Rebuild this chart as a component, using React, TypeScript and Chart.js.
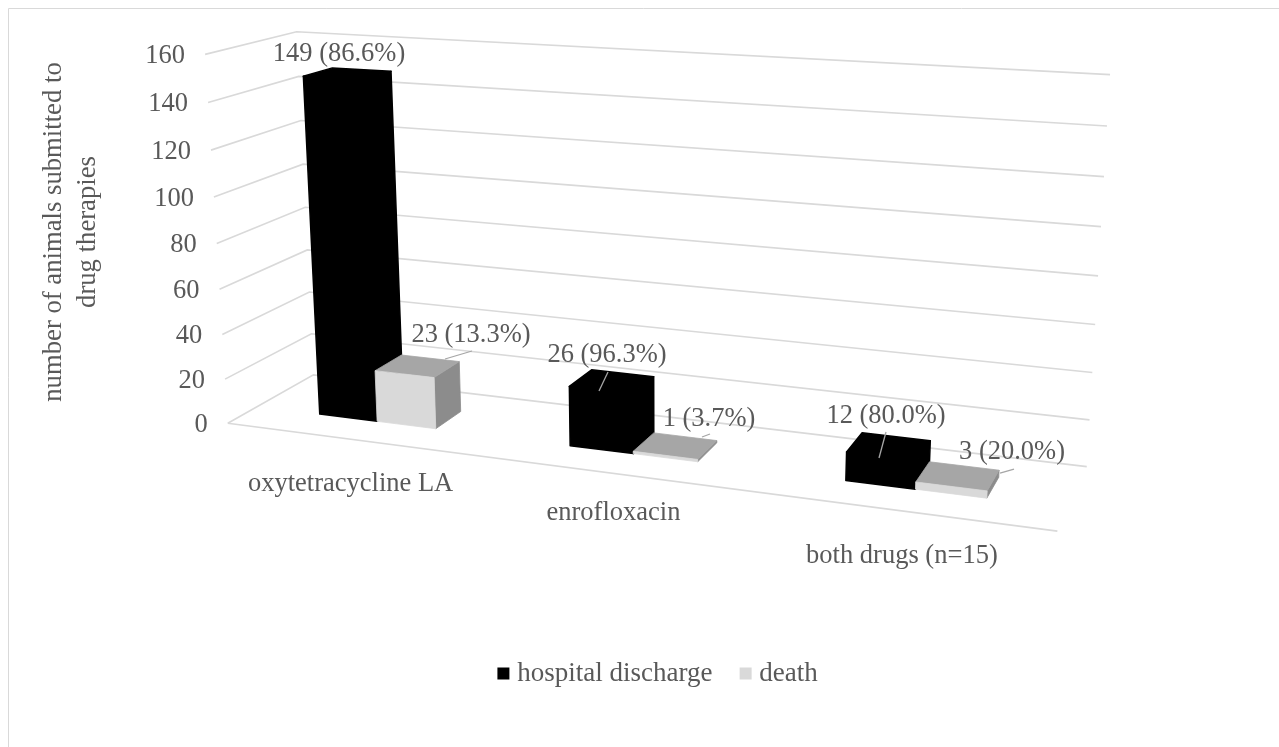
import React, { useEffect, useRef } from "react";
import { Chart, registerables } from "chart.js";

Chart.register(...registerables);

const categories = ["oxytetracycline LA", "enrofloxacin", "both drugs (n=15)"];
const dischargeValues = [149, 26, 12];
const deathValues = [23, 1, 3];
const dischargeShares = ["86.6", "96.3", "80.0"];
const deathShares = ["13.3", "3.7", "20.0"];
const yTicks = { min: 0, max: 160, step: 20 };
const seriesNames = ["hospital discharge", "death"];
const axisTitle = ["number of animals submitted to", "drug therapies"];

const FONT = `26.5px 'Liberation Serif'`;
const TEXT = "#595959";
const GRID = "#d9d9d9";
const LEADER = "#a6a6a6";
const FACE_COLORS = [
  { front: "#000000", top: "#000000", side: "#000000", seam: 1.5 },
  { front: "#d9d9d9", top: "#a6a6a6", side: "#8c8c8c", seam: 0.8 },
];

// Camera for the 3D box: maps (X along categories, Y along values, Z into depth),
// each in 0..1, to canvas pixels.
const CAMERA = [
  681.9562, -32.79, 110.1206, 227.796,
  33.7427, -371.5478, -19.0823, 423.2414,
  -0.1396068, -0.0492314, 0.0780776,
];
const project = (X: number, Y: number, Z: number): number[] => {
  const M = CAMERA;
  const d = M[8] * X + M[9] * Y + M[10] * Z + 1;
  return [(M[0] * X + M[1] * Y + M[2] * Z + M[3]) / d, (M[4] * X + M[5] * Y + M[6] * Z + M[7]) / d];
};

// Bars occupy the middle third of the floor's depth.
const BAR_FRONT_Z = 1 / 3;
const BAR_BACK_Z = 2 / 3;

// Offset of each category label from its point on the front floor edge.
const categoryLabelShift = [[1, 45], [2, 40], [1, 45]];

// Value label centre, then the leader line, in canvas pixels (one entry per bar).
const callouts = [
  [[339, 54]],
  [[471, 335], [472, 351], [445, 359]],
  [[607, 355], [608, 372], [599, 391]],
  [[709, 419], [710, 434], [702, 437]],
  [[886, 416], [886, 432], [879, 458]],
  [[1012, 452], [1014, 469], [1000, 473]],
];

const room3d = {
  id: "room3d",
  // Replaces the flat bars: everything is projected from the chart's own scales and bar elements.
  beforeDatasetsDraw(chart: any) {
    const { ctx, chartArea: ca, scales } = chart;
    const nx = (px: number) => (px - ca.left) / ca.width;
    const ny = (px: number) => (ca.bottom - px) / ca.height;
    const trace = (pts: number[][]) => {
      ctx.beginPath();
      pts.forEach((p, i) => (i ? ctx.lineTo(p[0], p[1]) : ctx.moveTo(p[0], p[1])));
    };
    const line = (pts: number[][], color: string, width: number) => {
      trace(pts);
      ctx.strokeStyle = color;
      ctx.lineWidth = width;
      ctx.stroke();
    };
    const face = (pts: number[][], color: string, seam: number) => {
      trace(pts);
      ctx.closePath();
      ctx.fillStyle = color;
      ctx.fill();
      ctx.strokeStyle = color;
      ctx.lineWidth = seam;
      ctx.lineJoin = "round";
      ctx.stroke();
    };

    ctx.save();
    ctx.font = FONT;
    ctx.fillStyle = TEXT;
    ctx.textBaseline = "middle";

    // chart frame: only the top and left edges fall inside the canvas
    line([[8.5, 747], [8.5, 8.5], [1279, 8.5]], GRID, 1);

    // gridlines on the side and back walls, with the value axis labels
    ctx.textAlign = "right";
    for (const t of scales.y.ticks) {
      const Y = ny(scales.y.getPixelForValue(t.value));
      const p = project(0, Y, 0);
      line([p, project(0, Y, 1), project(1, Y, 1)], GRID, 1.6);
      ctx.fillText(String(t.value), p[0] - 20, p[1] + 1.5);
    }
    line([project(0, 0, 0), project(1, 0, 0)], GRID, 1.6);

    // bars: side, top, then front face
    categories.forEach((_, j) => {
      chart.data.datasets.forEach((_d: any, i: number) => {
        const el = chart.getDatasetMeta(i).data[j];
        const x0 = nx(el.x - el.width / 2);
        const x1 = nx(el.x + el.width / 2);
        const Y = ny(el.y);
        const c = FACE_COLORS[i];
        const zf = BAR_FRONT_Z;
        const zb = BAR_BACK_Z;
        face([project(x1, 0, zf), project(x1, 0, zb), project(x1, Y, zb), project(x1, Y, zf)], c.side, c.seam);
        face([project(x0, Y, zf), project(x1, Y, zf), project(x1, Y, zb), project(x0, Y, zb)], c.top, c.seam);
        face([project(x0, 0, zf), project(x1, 0, zf), project(x1, Y, zf), project(x0, Y, zf)], c.front, c.seam);
      });
    });

    // value labels with their leader lines
    ctx.textAlign = "center";
    ctx.fillStyle = TEXT;
    categories.forEach((_, j) => {
      [[dischargeValues[j], dischargeShares[j]], [deathValues[j], deathShares[j]]].forEach(([v, s], i) => {
        const c = callouts[j * 2 + i];
        if (c.length > 1) line(c.slice(1), LEADER, 1.3);
        ctx.fillText(`${v} (${s}%)`, c[0][0], c[0][1]);
      });
    });

    // category labels below the front floor edge
    categories.forEach((name, j) => {
      const p = project(nx(scales.x.getPixelForTick(j)), 0, 0);
      ctx.fillText(name, p[0] + categoryLabelShift[j][0], p[1] + categoryLabelShift[j][1]);
    });

    // value axis title
    ctx.translate(71, 232);
    ctx.rotate(-Math.PI / 2);
    ctx.font = `26.7px 'Liberation Serif'`;
    ctx.fillText(axisTitle[0], 0, -17);
    ctx.fillText(axisTitle[1], 0, 17);
    ctx.restore();
    return false;
  },
};

export default function App() {
  const ref = useRef<HTMLCanvasElement>(null);
  useEffect(() => {
    const barLayout = { categoryPercentage: 0.475, barPercentage: 1 };
    const chart = new Chart(ref.current!, {
      type: "bar",
      data: {
        labels: categories,
        datasets: [
          { label: seriesNames[0], data: dischargeValues, backgroundColor: "#000000", ...barLayout },
          { label: seriesNames[1], data: deathValues, backgroundColor: "#d9d9d9", ...barLayout },
        ],
      },
      options: {
        responsive: false,
        animation: false,
        layout: { padding: { left: 42, bottom: 50 } },
        scales: {
          x: { display: false },
          y: { display: false, min: yTicks.min, max: yTicks.max, ticks: { stepSize: yTicks.step } },
        },
        plugins: {
          tooltip: { enabled: false },
          legend: {
            position: "bottom",
            labels: {
              usePointStyle: true,
              pointStyle: "rect",
              boxWidth: 0.5,
              boxHeight: 12,
              padding: 33,
              color: TEXT,
              font: { family: "'Liberation Serif'", size: 27 },
            },
          },
        },
      },
      plugins: [room3d],
    });
    return () => chart.destroy();
  }, []);
  return <canvas ref={ref} width={1279} height={747} style={{ position: "fixed", left: 0, top: 0 }} />;
}
